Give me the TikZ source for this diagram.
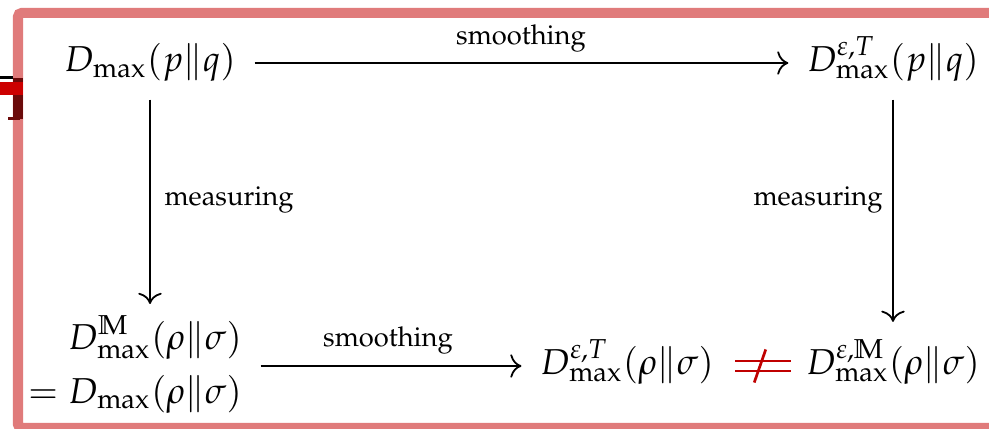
\documentclass[tikz,border=0pt]{standalone}
\usepackage[T1]{fontenc}
\usepackage{amsmath}
\usepackage{mathpazo}
\usetikzlibrary{cd,calc}
\definecolor{framecol}{HTML}{E07B7B}
\definecolor{neqred}{HTML}{C00000}
\definecolor{artred}{HTML}{CC0000}
\definecolor{artdark}{HTML}{6B0A0A}
\begin{document}
\begin{tikzpicture}[x=0.2778pt,y=-0.2778pt,
  mathnode/.style={inner xsep=5pt, inner ysep=4.7pt, font=\fontsize{10}{12}\selectfont},
  lbl/.style={font=\fontsize{7.6}{9}\selectfont, inner sep=0pt},
  arr/.style={-cm to, line width=0.5pt},
  neq/.style={draw=neqred, line width=0.75pt, double=white, double distance=2pt},
]
\path[use as bounding box, clip] (0,0) rectangle (989,429);
\fill[white] (0,0) rectangle (989,429);
% frame
\draw[framecol, line width=2.78pt, rounded corners=1pt] (18,13) rectangle (1000,428);
% cropped artifact at the left edge
\fill[black] (0,76.5) rectangle (13,79.5);
\fill[artdark] (13,78) rectangle (22.5,119);
\fill[artdark] (8,117) rectangle (20,120);
\fill[artred] (0,82) rectangle (22.5,95);

% nodes
\node[mathnode, anchor=base] (tl) at (150,72) {$D_{\max}(p\|q)$};
\node[mathnode, anchor=base] (tr) at (893,72) {$D^{\varepsilon,T}_{\max}(p\|q)$};
\node[mathnode, anchor=center] (bl) at (135,366) {$\begin{aligned}&D^{\mathbb{M}}_{\max}(\rho\|\sigma)\\={}&D_{\max}(\rho\|\sigma)\end{aligned}$};
\node[mathnode, anchor=base] (bm) at (627,375) {$D^{\varepsilon,T}_{\max}(\rho\|\sigma)$};
\node[mathnode, anchor=base] (br) at (893,375) {$D^{\varepsilon,\mathbb{M}}_{\max}(\rho\|\sigma)$};

% labels
\node[lbl] (l1) at (521,38) {smoothing};
\node[lbl] (l2) at (229,200) {measuring};
\node[lbl] (l3) at (818,200) {measuring};
\node[lbl] (l4) at (388,340) {smoothing};

% connectors
\draw[arr] ($(tl.base east)+(0,-9)$) -- ($(tr.base west)+(0,-9)$);
\draw[arr] (tl.south) -- ($(tl.south |- bl.north)+(0,6)$);
\draw[arr] (tr.south) -- (br.north);
\draw[arr] (bl.east) -- ($(bm.base west)+(0,-9)$);
\draw[neq, shorten <=0.8pt, shorten >=-1pt] ($(bm.base east)+(0,-9)$) -- coordinate[midway] (mid) ($(br.base west)+(0,-9)$);
\draw[neqred, line width=0.75pt] (mid) ++(-1.6pt,-4.6pt) -- ++(3.2pt,9.2pt);
\end{tikzpicture}
\end{document}
